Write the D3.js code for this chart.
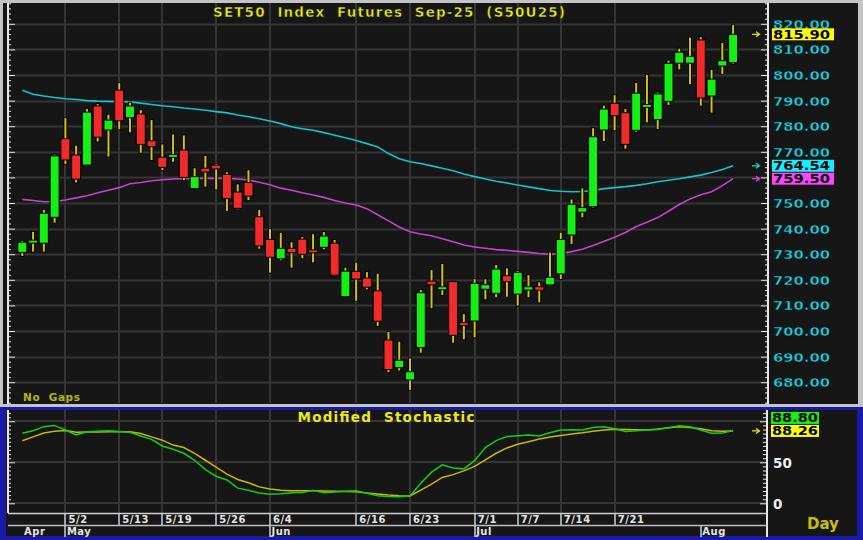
<!DOCTYPE html>
<html><head><meta charset="utf-8">
<script src="https://cdn.jsdelivr.net/npm/d3@7"></script>
<style>html,body{margin:0;padding:0;background:#c0c0c0;}svg{display:block;}</style>
</head><body><svg id="c" width="863" height="540"></svg>
<script>
// ---------------- data ----------------
const dates = ["4/25","4/28","4/29","4/30","5/2","5/6","5/7","5/8","5/9","5/13","5/14","5/15","5/16","5/19","5/20","5/21","5/22","5/23","5/26","5/27","5/28","5/29","5/30","6/4","6/5","6/6","6/9","6/10","6/11","6/12","6/13","6/16","6/17","6/18","6/19","6/20","6/23","6/24","6/25","6/26","6/27","6/30","7/1","7/2","7/3","7/4","7/7","7/8","7/9","7/11","7/14","7/15","7/16","7/17","7/18","7/21","7/22","7/23","7/24","7/25","7/29","7/30","7/31","8/1","8/4","8/5","8/6"];
const openP  = [730.7,734.4,734.3,744.4,775.1,768.75,764.8,787.9,778.5,794.1,783.3,784.8,774.3,767.9,768.2,770.7,755.6,763.6,764.8,761.2,754.3,758.0,744.65,735.8,728.2,732.3,735.9,731.3,732.7,734.3,713.4,723.3,720.7,715.7,696.5,685.7,680.9,693.5,719.5,716.5,719.3,702.9,703.9,716.3,714.7,721.6,714.4,716.0,717.3,718.0,722.3,737.5,746.4,748.55,778.5,788.95,785.3,778.4,787.7,782.55,789.7,804.6,804.6,813.7,791.8,803.5,804.8];
const highP  = [735.2,738.7,747.3,768.9,783.2,772.4,786.7,788.6,784.5,796.8,789.2,786.3,782.4,772.9,776.8,776.4,763.6,768.4,765.2,762.0,757.3,762.8,747.3,739.8,738.3,734.65,736.7,737.8,738.7,735.55,724.7,726.7,723.0,722.3,699.7,695.8,689.3,716.0,723.8,726.2,719.3,706.6,720.3,720.2,725.8,724.5,723.4,721.8,719.0,730.6,738.4,751.4,755.7,779.2,788.0,792.1,786.7,796.9,800.0,793.2,805.6,810.3,814.6,814.8,802.0,812.5,819.6];
const lowP   = [729.3,731.0,731.0,742.3,765.2,758.0,764.8,774.0,768.1,778.8,777.6,769.6,766.8,762.9,766.1,759.0,755.5,756.4,755.3,746.9,747.5,751.1,732.15,722.8,727.6,724.7,728.4,726.8,731.9,721.5,713.4,711.8,716.3,702.0,683.9,684.6,677.0,691.5,708.9,714.1,695.4,696.8,697.5,712.4,713.2,713.4,709.9,713.2,711.2,718.0,720.3,734.0,744.4,748.2,774.2,778.4,771.2,777.85,781.5,778.9,788.3,802.2,796.5,788.0,785.3,800.4,804.4];
const closeP = [734.7,735.5,746.0,768.4,766.8,759.3,785.5,775.7,782.4,782.1,787.9,772.9,772.0,763.9,768.6,760.0,760.3,762.1,763.3,751.7,747.9,752.7,733.2,728.8,732.3,730.6,729.95,730.9,737.1,721.8,723.4,720.3,717.1,703.8,684.9,688.6,684.1,714.95,718.0,716.9,698.3,702.5,718.6,718.1,724.2,719.3,722.9,717.3,715.9,721.0,735.8,749.5,748.2,775.9,786.7,784.1,772.9,792.9,788.1,792.6,804.6,808.9,807.3,791.0,798.4,805.6,815.9];
const maLong  = [794.0,792.5,791.8,791.2,790.7,790.4,790.0,789.8,789.7,789.6,789.5,789.0,788.5,788.0,787.6,787.1,786.7,786.2,785.7,785.2,784.4,783.7,782.9,782.0,781.0,779.8,779.0,778.4,777.5,776.5,775.5,774.4,773.2,771.9,769.3,767.3,766.1,765.4,764.5,763.6,762.6,761.3,760.3,759.4,758.5,757.8,757.0,756.3,755.6,754.9,754.6,754.4,754.5,754.9,755.6,756.0,756.4,756.9,757.5,758.3,758.9,759.5,760.2,760.9,761.9,763.1,764.54];
const maShort = [751.4,751.0,750.5,750.6,751.2,752.0,752.8,754.0,755.0,756.0,757.5,758.0,758.7,759.1,759.4,759.5,759.6,759.6,759.6,759.6,759.4,759.0,758.1,757.1,755.8,755.0,754.0,753.1,752.2,751.0,750.0,749.2,747.8,745.4,743.0,740.6,738.8,737.9,737.2,736.0,734.9,733.6,732.8,732.3,731.8,731.5,731.1,730.7,730.3,730.0,730.3,731.0,731.9,733.4,735.0,736.6,738.5,740.8,742.5,744.3,746.8,749.4,751.6,753.2,754.4,756.8,759.5];
const stochK = [85.4,88.5,93.5,95.0,89.4,83.5,87.3,87.8,88.5,87.6,86.6,82.1,78.0,69.9,66.0,61.0,52.5,41.0,33.0,28.4,18.5,16.0,12.5,11.0,11.5,12.9,13.2,16.0,13.0,13.8,14.6,15.4,12.2,9.2,8.4,8.0,8.9,24.4,38.0,47.0,43.0,42.0,52.0,68.0,76.5,81.5,82.5,83.3,82.0,86.0,89.5,89.8,89.4,92.5,93.4,91.0,87.5,88.5,89.4,90.0,92.0,94.6,93.4,89.5,85.4,85.6,88.8];
const stochD = [76.3,81.0,85.8,88.0,88.7,86.6,86.8,87.0,87.2,87.3,87.3,85.0,81.0,77.0,71.0,68.0,61.0,52.5,44.0,35.5,29.0,25.0,20.0,17.4,15.8,15.4,15.4,15.4,15.0,14.6,14.4,14.1,12.5,11.3,10.0,9.2,8.9,16.0,23.5,31.5,35.0,39.5,45.0,53.0,61.0,67.5,72.0,75.1,78.5,80.8,82.8,84.5,86.0,88.0,89.5,90.3,90.0,89.8,89.4,90.5,92.0,93.4,92.5,91.0,88.5,87.8,88.26];
const priceTicks = [680,690,700,710,720,730,740,750,760,770,780,790,800,810,820];
const dateTickLabels = ["5/2","5/13","5/19","5/26","6/4","6/16","6/23","7/1","7/7","7/14","7/21"];
const monthLabels = ["Apr","May","Jun","Jul","Aug"];
const monthStarts = ["4/25","5/2","6/4","7/1","8/1"];
const stochTicks = [0,50];
const titleText = "SET50  Index  Futures  Sep-25  (S50U25)";
const stochTitle = "Modified  Stochastic";

// ---------------- drawing ----------------
const svg = d3.select("#c");
const F = "'DejaVu Sans', Verdana, sans-serif";
const x = d3.scaleLinear().domain([0, dates.length-1]).range([22.3, 733.1]);
const y = d3.scaleLinear().domain([680, 820]).range([382.2, 23.8]);
const ys = d3.scaleLinear().domain([0, 100]).range([503.3, 421.3]);
const L = 8, R = 768;
const last = dates.length-1;

svg.append("rect").attr("width",863).attr("height",540).attr("fill","#c4c4c4");
svg.append("rect").attr("x",3).attr("y",3).attr("width",855).attr("height",401).attr("fill","#161616");
svg.append("rect").attr("x",0).attr("y",407).attr("width",863).attr("height",133).attr("fill","#1a1aa8");
svg.append("rect").attr("x",6).attr("y",410).attr("width",851).attr("height",126).attr("fill","#161616");

const grid = "#353535";
svg.append("g").selectAll("line").data(priceTicks).join("line")
  .attr("x1",L).attr("x2",R).attr("y1",d=>Math.round(y(d))+0.5).attr("y2",d=>Math.round(y(d))+0.5)
  .attr("stroke",grid).attr("stroke-width",2);
const tickIdx = dateTickLabels.map(d=>dates.indexOf(d));
svg.append("g").selectAll("line").data(tickIdx).join("line")
  .attr("x1",d=>Math.round(x(d))).attr("x2",d=>Math.round(x(d))).attr("y1",3).attr("y2",403)
  .attr("stroke",grid).attr("stroke-width",2);
svg.append("g").selectAll("line").data([0,50,100]).join("line")
  .attr("x1",L).attr("x2",767).attr("y1",d=>Math.round(ys(d))).attr("y2",d=>Math.round(ys(d)))
  .attr("stroke",grid).attr("stroke-width",2);
svg.append("g").selectAll("line").data(tickIdx).join("line")
  .attr("x1",d=>Math.round(x(d))).attr("x2",d=>Math.round(x(d))).attr("y1",410).attr("y2",513)
  .attr("stroke",grid).attr("stroke-width",2);

function styleAxis(g){ g.select(".domain").remove(); g.selectAll("line").attr("stroke","#e8e8e8"); }
const minor = d3.range(672, 829, 2);
svg.append("g").attr("transform",`translate(${L},0)`)
  .call(d3.axisRight(y).tickValues(minor).tickSize(3).tickFormat(""))
  .call(styleAxis)
  .call(g=>g.selectAll(".tick line").attr("x2",d=>d%10===0?7:3));
svg.append("g").attr("transform",`translate(${R},0)`)
  .call(d3.axisLeft(y).tickValues(minor).tickSize(3).tickFormat(""))
  .call(styleAxis)
  .call(g=>g.selectAll(".tick line").attr("x2",d=>d%10===0?-7:-3));
svg.append("line").attr("x1",L).attr("x2",L).attr("y1",3).attr("y2",404).attr("stroke","#e8e8e8").attr("stroke-width",2);
svg.append("line").attr("x1",R).attr("x2",R).attr("y1",3).attr("y2",404).attr("stroke","#e8e8e8").attr("stroke-width",2);

// price labels (those hidden under the value boxes in the reference are left out)
const boxVals = [closeP[last], maLong[last], maShort[last]];
const shownTicks = priceTicks.filter(t=>boxVals.every(v=>Math.abs(y(t)-y(v))>8));
svg.append("g").attr("transform",`translate(${R},0)`)
  .call(d3.axisRight(y).tickValues(shownTicks).tickSize(0).tickPadding(5).tickFormat(d3.format(".2f")))
  .call(g=>g.select(".domain").remove())
  .call(g=>g.selectAll("text").attr("fill","#18d4e0").attr("font-family",F).attr("font-weight","bold")
     .attr("font-size","12.5px").attr("textLength",57).attr("lengthAdjust","spacingAndGlyphs")
     .attr("stroke","#000").attr("stroke-width",0.4).attr("dy","0.36em"));

const lineMA = d3.line().x((d,i)=>x(i)).y(d=>y(d));
svg.append("path").datum(maLong).attr("d",lineMA).attr("fill","none").attr("stroke","#12c4cc").attr("stroke-width",1.6);
svg.append("path").datum(maShort).attr("d",lineMA).attr("fill","none").attr("stroke","#c444c8").attr("stroke-width",1.6);

const candles = svg.append("g").selectAll("g").data(dates.map((d,i)=>({i,o:openP[i],h:highP[i],l:lowP[i],c:closeP[i]}))).join("g");
candles.append("line").attr("x1",d=>x(d.i)).attr("x2",d=>x(d.i)).attr("y1",d=>y(d.h)-1).attr("y2",d=>y(d.l)+1)
  .attr("stroke","#000").attr("stroke-width",4);
candles.append("line").attr("x1",d=>x(d.i)).attr("x2",d=>x(d.i)).attr("y1",d=>y(d.h)).attr("y2",d=>y(d.l))
  .attr("stroke","#d6c400").attr("stroke-width",2);
candles.append("rect")
  .attr("x",d=>x(d.i)-4.5).attr("width",9)
  .attr("y",d=>{const t=y(Math.max(d.o,d.c)), b=y(Math.min(d.o,d.c)); return b-t<2.5?(t+b)/2-1.5:t;})
  .attr("height",d=>Math.max(3, y(Math.min(d.o,d.c))-y(Math.max(d.o,d.c))))
  .attr("fill",d=>d.c>=d.o?"#14f014":"#f22a2a").attr("stroke","#000").attr("stroke-width",1);

svg.append("text").attr("x",389).attr("y",16.5).attr("text-anchor","middle").attr("xml:space","preserve")
  .style("white-space","pre").attr("font-family",F).attr("font-weight","bold").attr("font-size","13.5px")
  .attr("fill","#ecec10").attr("stroke","#000").attr("stroke-width",0.4)
  .attr("textLength",352).attr("lengthAdjust","spacing").text(titleText);
svg.append("text").attr("x",23).attr("y",400.5).attr("font-family",F).attr("font-weight","bold").attr("font-size","10.5px")
  .attr("fill","#b8b800").attr("xml:space","preserve").style("white-space","pre").attr("textLength",57).text("No  Gaps");

function arrow(yy,col){
  svg.append("path").attr("d",`M752,${yy} L759,${yy} M756,${yy-2.5} L759.5,${yy} L756,${yy+2.5}`)
    .attr("stroke",col).attr("stroke-width",1.2).attr("fill","none");
}
function valBox(yy,txt,bg){
  svg.append("rect").attr("x",772).attr("y",yy-6).attr("width",62).attr("height",12).attr("fill",bg);
  svg.append("text").attr("x",773).attr("y",yy).attr("dy","0.36em").attr("font-family",F).attr("font-weight","bold")
    .attr("font-size","12.5px").attr("textLength",57).attr("lengthAdjust","spacingAndGlyphs").attr("fill","#000").text(txt);
}
arrow(y(closeP[last]),"#e8e000"); valBox(y(closeP[last]), d3.format(".2f")(closeP[last]), "#ffff00");
arrow(y(maLong[last]),"#18d0e0"); valBox(y(maLong[last]), d3.format(".2f")(maLong[last]), "#10f0ff");
arrow(y(maShort[last]),"#e040e0"); valBox(y(maShort[last]), d3.format(".2f")(maShort[last]), "#ff44ff");

// ---------------- lower panel ----------------
const sMinor = d3.range(0, 111, 5);
svg.append("g").attr("transform",`translate(${L},0)`)
  .call(d3.axisRight(ys).tickValues(sMinor).tickSize(3).tickFormat(""))
  .call(styleAxis).call(g=>g.selectAll(".tick line").attr("x2",d=>d%50===0?7:3));
svg.append("g").attr("transform",`translate(767,0)`)
  .call(d3.axisLeft(ys).tickValues(sMinor).tickSize(3).tickFormat(""))
  .call(styleAxis).call(g=>g.selectAll(".tick line").attr("x2",d=>d%50===0?-7:-4));
svg.append("line").attr("x1",L).attr("x2",L).attr("y1",410).attr("y2",513).attr("stroke","#e8e8e8").attr("stroke-width",2);
svg.append("line").attr("x1",767).attr("x2",767).attr("y1",410).attr("y2",537).attr("stroke","#e8e8e8").attr("stroke-width",2);
svg.append("g").attr("transform",`translate(767,0)`)
  .call(d3.axisRight(ys).tickValues(stochTicks).tickSize(0).tickPadding(6).tickFormat(d3.format("d")))
  .call(g=>g.select(".domain").remove())
  .call(g=>g.selectAll("text").attr("fill","#f0f0f0").attr("font-family",F).attr("font-weight","bold").attr("font-size","13.5px").attr("dy","0.36em"));

const lineS = d3.line().x((d,i)=>x(i)).y(d=>ys(d));
svg.append("path").datum(stochD).attr("d",lineS).attr("fill","none").attr("stroke","#c8b800").attr("stroke-width",1.5);
svg.append("path").datum(stochK).attr("d",lineS).attr("fill","none").attr("stroke","#10d010").attr("stroke-width",1.5);

svg.append("text").attr("x",386).attr("y",421.5).attr("text-anchor","middle").attr("xml:space","preserve").style("white-space","pre")
  .attr("font-family",F).attr("font-weight","bold").attr("font-size","13.5px").attr("fill","#ecec10")
  .attr("textLength",177).attr("lengthAdjust","spacing").text(stochTitle);

arrow(ys(stochD[last]),"#e8e000");
function sBox(yy,txt,bg){
  svg.append("rect").attr("x",771).attr("y",yy-6).attr("width",48).attr("height",12).attr("fill",bg);
  svg.append("text").attr("x",772).attr("y",yy).attr("dy","0.36em").attr("font-family",F).attr("font-weight","bold")
    .attr("font-size","12px").attr("textLength",46).attr("lengthAdjust","spacingAndGlyphs").attr("fill","#000").text(txt);
}
sBox(ys(stochD[last])-13, d3.format(".2f")(stochK[last]), "#14f014");
sBox(ys(stochD[last]), d3.format(".2f")(stochD[last]), "#ffff00");

const ax = svg.append("g");
ax.append("line").attr("x1",L).attr("x2",767).attr("y1",513.5).attr("y2",513.5).attr("stroke","#d0d0d0").attr("stroke-width",1.5);
ax.append("line").attr("x1",L).attr("x2",767).attr("y1",525.5).attr("y2",525.5).attr("stroke","#c0c0c0").attr("stroke-width",1.5);
ax.selectAll(".dt").data(tickIdx).join("line")
  .attr("x1",d=>Math.round(x(d))).attr("x2",d=>Math.round(x(d))).attr("y1",513).attr("y2",525)
  .attr("stroke","#d0d0d0").attr("stroke-width",1.5);
ax.selectAll(".dl").data(dateTickLabels).join("text")
  .attr("x",d=>x(dates.indexOf(d))+3).attr("y",523).attr("font-family",F).attr("font-weight","bold")
  .attr("font-size","10px").attr("letter-spacing","0.6px").attr("fill","#e4e4e4").text(d=>d);
const monthIdx = monthStarts.map(d=>dates.indexOf(d));
ax.selectAll(".ml").data(monthIdx.slice(1)).join("line")
  .attr("x1",d=>Math.round(x(d))).attr("x2",d=>Math.round(x(d))).attr("y1",526).attr("y2",537)
  .attr("stroke","#d0d0d0").attr("stroke-width",1.5);
ax.selectAll(".mt").data(monthLabels).join("text")
  .attr("x",(d,i)=>i===0?24:x(monthIdx[i])+1.5).attr("y",535.3).attr("font-family",F).attr("font-weight","bold")
  .attr("font-size","10px").attr("letter-spacing","0.5px").attr("fill","#e4e4e4").text(d=>d);
svg.append("text").attr("x",807).attr("y",529).attr("font-family",F).attr("font-size","15px").attr("font-weight","bold")
  .attr("fill","#c8c000").text("Day");
</script></body></html>
